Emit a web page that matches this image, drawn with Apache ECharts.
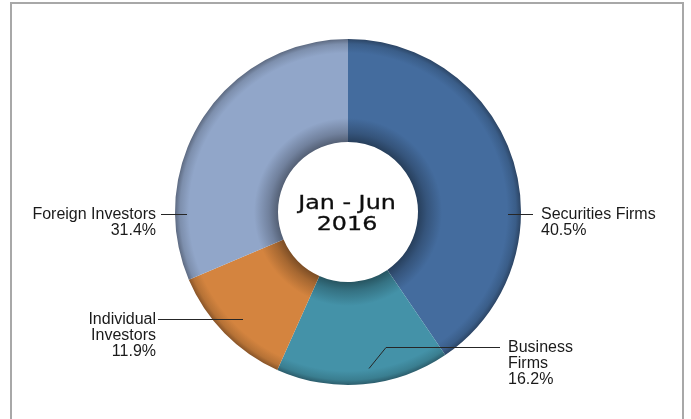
<!DOCTYPE html>
<html>
<head>
<meta charset="utf-8">
<script src="https://cdn.jsdelivr.net/npm/echarts@6/dist/echarts.min.js"></script>
<style>
  html, body { margin: 0; padding: 0; background: #ffffff; }
  #chart { width: 691px; height: 419px; }
</style>
</head>
<body>
<div id="chart"></div>
<script>
// Share of trading by investor group, first half of 2016 (%)
const categories = ['Securities Firms', 'Business\nFirms', 'Individual\nInvestors', 'Foreign Investors'];
const shares = [40.5, 16.2, 11.9, 31.4];
const periodLines = ['Jan - Jun', '2016'];
const sliceColors = ['#446C9E', '#4492A8', '#D4843F', '#91A6C9'];

// ring geometry (px)
const CX = 348, CY = 212, R_IN = 70, R_OUT = 173;

function shade(hex, f) {
  const n = parseInt(hex.slice(1), 16);
  const r = (n >> 16) & 255, g = (n >> 8) & 255, b = n & 255;
  return 'rgb(' + Math.round(r * f) + ',' + Math.round(g * f) + ',' + Math.round(b * f) + ')';
}

// radial shading: soft shadow around the hole, darker rim on the outside
function ringFill(hex) {
  const o = r => r / R_OUT;
  return {
    type: 'radial', x: CX, y: CY, r: R_OUT, global: true,
    colorStops: [
      { offset: 0, color: shade(hex, 0.58) },
      { offset: o(R_IN), color: shade(hex, 0.58) },
      { offset: o(R_IN + 9), color: shade(hex, 0.78) },
      { offset: o(R_IN + 24), color: hex },
      { offset: o(R_OUT - 14), color: hex },
      { offset: o(R_OUT - 5), color: shade(hex, 0.86) },
      { offset: 1, color: shade(hex, 0.64) }
    ]
  };
}

// leader lines as offsets from the ring centre; text anchored at textX, first line centred on lineY
const labelGuides = [
  { pts: [[160, 2], [185, 2]], lineY: 2, textX: 193, align: 'left' },
  { pts: [[21, 156], [38, 135], [152, 135]], lineY: 135, textX: 160, align: 'left' },
  { pts: [[-105, 107], [-190, 107]], lineY: 107, textX: -192, align: 'right' },
  { pts: [[-161, 2], [-187, 2]], lineY: 2, textX: -192, align: 'right' }
];

const leaderLines = labelGuides.map(g => ({
  type: 'polyline',
  silent: true,
  z: 20,
  shape: { points: g.pts.map(q => [CX + q[0], CY + q[1] + 0.5]) },
  style: { fill: null, stroke: '#262626', lineWidth: 1 }
}));

const chart = echarts.init(document.getElementById('chart'), null, { renderer: 'canvas' });

chart.setOption({
  animation: false,
  backgroundColor: '#ffffff',
  graphic: [
    {
      type: 'rect',
      silent: true,
      shape: { x: 11, y: 3, width: 672, height: 440 },
      style: { fill: 'none', stroke: '#a8a8a8', lineWidth: 2 }
    },
    {
      type: 'text',
      silent: true,
      x: CX - 1,
      y: 214.5,
      scaleX: 1.19,
      z: 10,
      style: {
        text: periodLines.join('\n'),
        fontFamily: 'DejaVu Sans',
        fontSize: 20,
        lineHeight: 21,
        fill: '#0d0d0d',
        stroke: '#0d0d0d',
        lineWidth: 0.3,
        align: 'center',
        verticalAlign: 'middle',
        textAlign: 'center',
        textVerticalAlign: 'middle'
      }
    }
  ].concat(leaderLines),
  series: [
    {
      type: 'pie',
      center: [CX, CY],
      radius: [R_IN, R_OUT],
      startAngle: 90,
      clockwise: true,
      silent: true,
      avoidLabelOverlap: false,
      data: categories.map((name, i) => ({
        name: name,
        value: shares[i],
        itemStyle: { color: ringFill(sliceColors[i]) }
      })),
      itemStyle: { borderWidth: 0 },
      label: {
        show: true,
        position: 'outside',
        formatter: p => p.name + '\n' + p.value.toFixed(1) + '%',
        fontFamily: 'Liberation Sans',
        fontSize: 16,
        lineHeight: 16,
        color: '#1a1a1a'
      },
      labelLine: { show: false },
      labelLayout: function (p) {
        const g = labelGuides[p.dataIndex];
        return {
          x: CX + g.textX,
          y: CY + g.lineY - 8 + 0.5,
          align: g.align,
          verticalAlign: 'top'
        };
      }
    }
  ]
});
</script>
</body>
</html>
